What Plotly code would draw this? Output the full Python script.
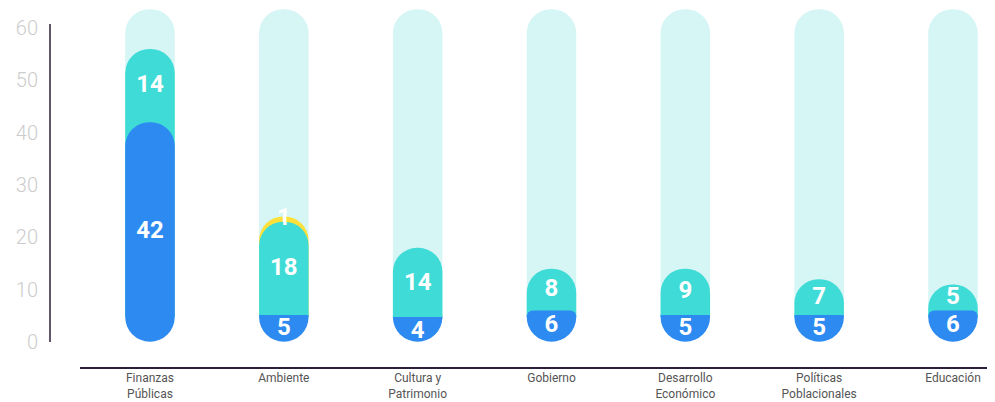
import plotly.graph_objects as go

# ---- data ----
categories = ["Finanzas<br>Públicas", "Ambiente", "Cultura y<br>Patrimonio", "Gobierno",
              "Desarrollo<br>Económico", "Políticas<br>Poblacionales", "Educación"]
blue_vals = [42, 5, 4, 6, 5, 5, 6]
teal_vals = [14, 18, 14, 8, 9, 7, 5]
yellow_vals = [0, 1, 0, 0, 0, 0, 0]
track_max = 63.6
y_ticks = [0, 10, 20, 30, 40, 50, 60]

# ---- style ----
BLUE = "#2c8af0"
TEAL = "#3fdbd7"
YELLOW = "#fde03a"
TRACK = "#d6f5f5"
AXIS = "#2b1f3a"
CAP = 4.78          # data height of the 25px rounded bottom cap
BAR_W = 0.37
BAR_PX = 49.5
RADIUS = 25
Y_LO, Y_HI = -4.78, 63.83
W, H = 987, 394     # page body has an 8px margin
B_MARGIN = 35

n = len(categories)
blue_top = list(blue_vals)
teal_top = [b + t for b, t in zip(blue_vals, teal_vals)]
yellow_top = [b + t + y for b, t, y in zip(blue_vals, teal_vals, yellow_vals)]

fig = go.Figure()

def bar(vals, color, yaxis):
    fig.add_trace(go.Bar(
        x=categories, y=vals, width=BAR_W, yaxis=yaxis,
        marker=dict(color=color, line=dict(width=0), cornerradius=RADIUS),
        hoverinfo="skip", showlegend=False))

# round bottom cap (base axis, drawn first)
fig.add_trace(go.Scatter(
    x=categories, y=[CAP] * n, mode="markers", yaxis="y",
    marker=dict(symbol="circle", size=BAR_PX, color=BLUE, line=dict(width=0)),
    hoverinfo="skip", showlegend=False))

# each layer on its own overlaying axis whose zero sits at the top of the cap
bar([track_max - CAP] * n, TRACK, "y2")
bar([(yt - CAP) if yv > 0 else None for yt, yv in zip(yellow_top, yellow_vals)], YELLOW, "y3")
bar([(tt - CAP) if tv > 0 else None for tt, tv in zip(teal_top, teal_vals)], TEAL, "y4")
bar([(bt - CAP) if bv > 0 else None for bt, bv in zip(blue_top, blue_vals)], BLUE, "y5")

# value labels
lx, ly, lt = [], [], []
for c, b, t, y in zip(categories, blue_vals, teal_vals, yellow_vals):
    if b:
        lx.append(c); ly.append(b / 2); lt.append(str(b))
    if t:
        lx.append(c); ly.append(b + t / 2); lt.append(str(t))
    if y:
        lx.append(c); ly.append(b + t + y / 2); lt.append(str(y))
fig.add_trace(go.Scatter(
    x=lx, y=ly, text=lt, mode="text", yaxis="y6", cliponaxis=False,
    textfont=dict(family="Roboto", size=24, color="white", weight="bold"),
    hoverinfo="skip", showlegend=False))

shifted = dict(overlaying="y", range=[Y_LO - CAP, Y_HI - CAP], visible=False, fixedrange=True)

fig.update_layout(
    width=W, height=H,
    margin=dict(l=0, r=0, t=0, b=B_MARGIN),
    paper_bgcolor="white", plot_bgcolor="rgba(0,0,0,0)",
    barmode="overlay",
    font=dict(family="Roboto"),
    xaxis=dict(
        domain=[72 / W, 1], range=[-0.523, 6.314],
        anchor="y",
        showline=True, linecolor=AXIS, linewidth=1.5,
        showgrid=False, zeroline=False, ticks="",
        ticklabelstandoff=-1,
        tickfont=dict(family="Roboto", size=12, color="#555555"),
        automargin=False, fixedrange=True),
    yaxis=dict(
        domain=[0, 1], range=[Y_LO, Y_HI],
        anchor="free", position=42 / W,
        showline=False, showgrid=False, zeroline=False, ticks="",
        tickvals=y_ticks, ticklabelstandoff=12,
        tickfont=dict(family="Roboto", size=20, color="#cccccc", weight=300),
        automargin=False, fixedrange=True),
    yaxis2=shifted, yaxis3=shifted, yaxis4=shifted, yaxis5=shifted,
    yaxis6=dict(overlaying="y", range=[Y_LO, Y_HI], visible=False, fixedrange=True),
    shapes=[dict(type="line", xref="paper", yref="y", x0=42 / W, x1=42 / W,
                 y0=0, y1=60.77, line=dict(color=AXIS, width=1.5), layer="above")],
)

fig.write_html("out.html")
